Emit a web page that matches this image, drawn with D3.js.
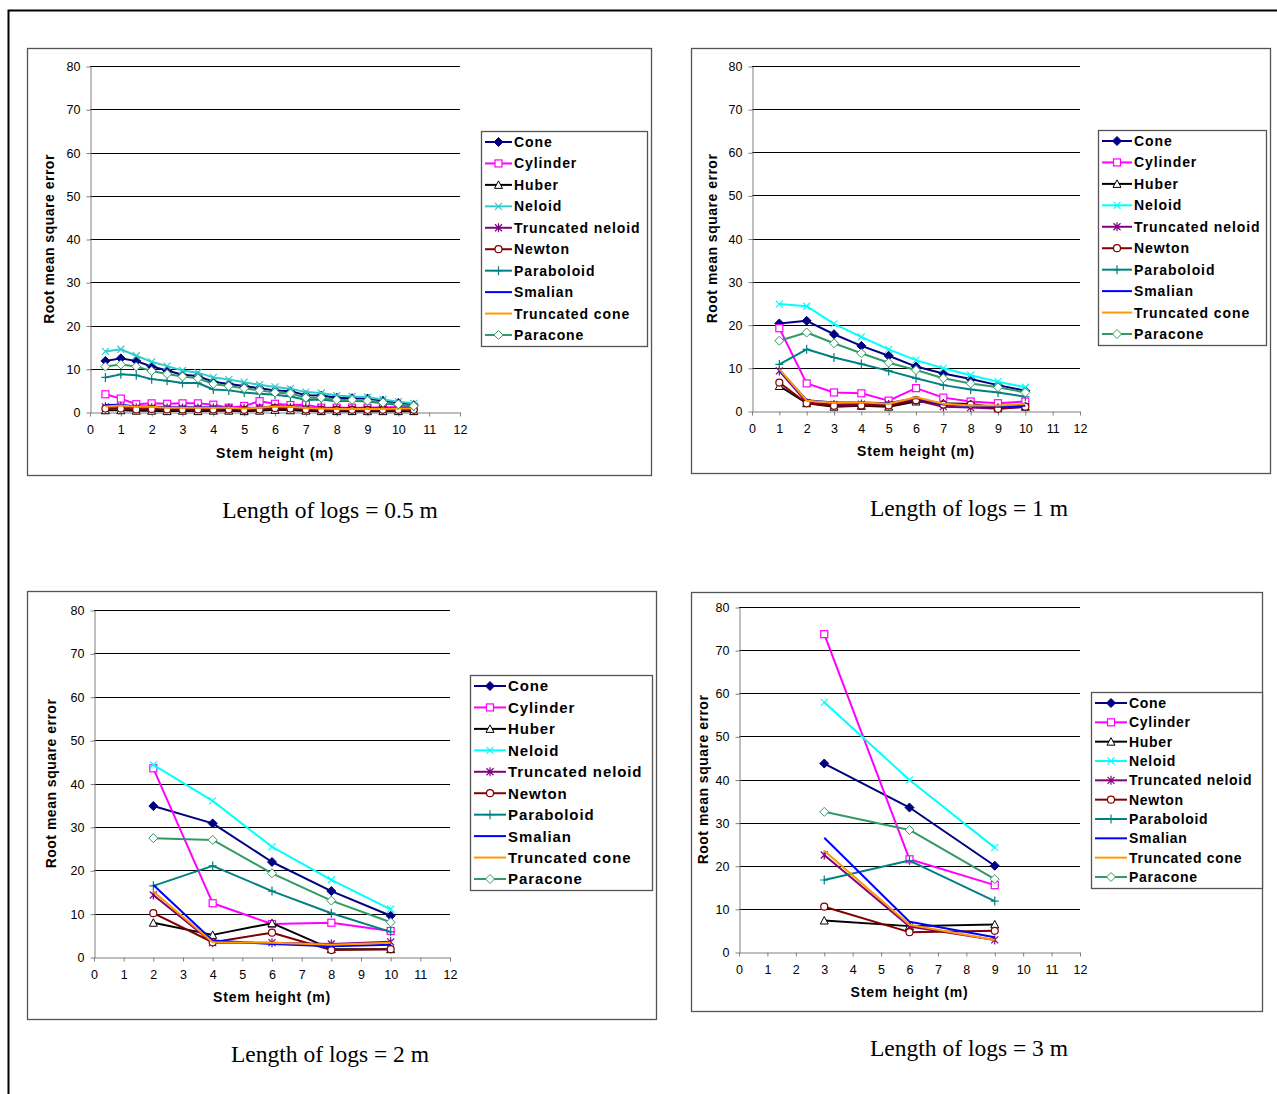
<!DOCTYPE html>
<meta charset="utf-8">
<style>
body { margin: 0; background: #fff; }
svg { display: block; }
text { font-family: Arial, "Liberation Sans", sans-serif; }
.caption { font-family: "Times New Roman", "Liberation Serif", serif; font-size: 23.5px; }
</style>
<body>
<script src="https://cdn.jsdelivr.net/npm/d3@7"></script>
<script>

// series, in the order Excel draws them
var seriesNames = ["Cone", "Cylinder", "Huber", "Neloid", "Truncated neloid",
                   "Newton", "Paraboloid", "Smalian", "Truncated cone", "Paracone"];

var xTicks = [0, 1, 2, 3, 4, 5, 6, 7, 8, 9, 10, 11, 12];
var yTicks = [0, 10, 20, 30, 40, 50, 60, 70, 80];

// length of logs = 0.5 m
var heights05 = [0.5, 1, 1.5, 2, 2.5, 3, 3.5, 4, 4.5, 5, 5.5, 6, 6.5, 7, 7.5, 8, 8.5, 9, 9.5, 10, 10.5];
var rmse05 = [
  [11.8, 12.4, 11.8, 10.5, 9.6, 8.6, 8.3, 7.0, 6.5, 6.0, 5.5, 5.0, 4.8, 3.9, 3.8, 3.3, 3.2, 3.1, 2.6, 2.1, 1.6],
  [4.1, 3.1, 1.8, 2.0, 1.9, 2.0, 2.0, 1.7, 1.0, 1.4, 2.5, 1.9, 1.6, 1.7, 1.0, 1.0, 1.0, 1.0, 1.1, 1.1, 1.2],
  [0.4, 0.4, 0.3, 0.3, 0.2, 0.3, 0.2, 0.3, 0.3, 0.2, 0.3, 0.5, 0.4, 0.3, 0.2, 0.2, 0.2, 0.2, 0.2, 0.2, 0.2],
  [14.0, 14.5, 13.0, 11.6, 10.6, 9.6, 9.1, 8.0, 7.5, 6.9, 6.3, 5.8, 5.4, 4.6, 4.4, 3.8, 3.6, 3.4, 2.9, 2.4, 2.0],
  [1.2, 1.3, 1.0, 1.0, 0.9, 0.9, 0.9, 0.9, 0.9, 0.8, 0.9, 1.1, 1.0, 0.8, 0.7, 0.7, 0.7, 0.7, 0.7, 0.7, 0.7],
  [0.8, 0.8, 0.6, 0.7, 0.6, 0.6, 0.6, 0.6, 0.6, 0.5, 0.6, 0.9, 0.8, 0.6, 0.5, 0.5, 0.5, 0.5, 0.5, 0.5, 0.5],
  [8.0, 8.7, 8.5, 7.6, 7.2, 6.7, 6.7, 5.2, 5.0, 4.5, 4.2, 4.0, 3.6, 2.8, 2.9, 2.5, 2.6, 2.4, 2.0, 1.6, 1.3],
  [1.6, 1.7, 1.3, 1.3, 1.1, 1.1, 1.1, 1.1, 1.0, 0.9, 1.0, 1.4, 1.2, 1.0, 0.9, 0.8, 0.8, 0.8, 0.8, 0.9, 0.9],
  [1.3, 1.5, 1.2, 1.2, 1.0, 1.0, 1.0, 1.0, 1.0, 0.8, 1.0, 1.3, 1.2, 0.9, 0.8, 0.7, 0.7, 0.7, 0.7, 0.8, 0.8],
  [10.5, 11.0, 10.5, 9.5, 8.8, 8.2, 7.8, 6.5, 6.0, 5.5, 5.0, 4.5, 4.3, 3.3, 3.3, 2.8, 2.8, 2.6, 2.2, 1.8, 1.4]
];

// length of logs = 1 m
var heights1 = [1, 2, 3, 4, 5, 6, 7, 8, 9, 10];
var rmse1 = [
  [20.3, 20.9, 17.8, 15.1, 12.8, 10.3, 8.7, 7.4, 6.0, 4.7],
  [19.2, 6.4, 4.3, 4.1, 2.4, 5.3, 3.1, 2.2, 1.8, 2.2],
  [5.8, 1.8, 1.0, 1.2, 1.0, 2.2, 1.8, 1.6, 0.8, 1.0],
  [24.8, 24.3, 20.2, 17.2, 14.3, 11.8, 9.9, 8.3, 6.8, 5.5],
  [9.3, 2.0, 1.5, 1.6, 1.5, 2.5, 1.0, 0.8, 0.5, 1.0],
  [6.6, 1.8, 1.2, 1.3, 1.3, 2.5, 1.5, 1.5, 0.5, 1.0],
  [10.8, 14.3, 12.4, 10.9, 9.3, 7.6, 6.0, 5.0, 4.3, 3.3],
  [9.5, 2.5, 2.0, 2.0, 1.8, 3.0, 1.5, 1.2, 1.0, 1.2],
  [9.7, 2.4, 1.9, 2.0, 1.7, 3.2, 1.7, 1.3, 1.3, 1.6],
  [16.3, 18.2, 15.7, 13.4, 11.2, 9.5, 7.6, 6.4, 5.5, 4.3]
];

// length of logs = 2 m
var heights2 = [2, 4, 6, 8, 10];
var rmse2 = [
  [34.8, 30.8, 21.9, 15.2, 9.5],
  [43.5, 12.4, 7.6, 7.9, 6.0],
  [7.9, 5.1, 7.8, 1.8, 1.8],
  [44.3, 36.0, 25.4, 17.8, 11.0],
  [14.3, 3.3, 3.3, 3.0, 3.5],
  [10.1, 3.4, 5.6, 1.6, 1.8],
  [16.4, 21.0, 15.2, 10.1, 5.8],
  [16.6, 3.8, 3.0, 2.5, 2.8],
  [15.1, 3.4, 3.3, 2.8, 3.3],
  [27.4, 27.0, 19.3, 13.0, 8.0]
];

// length of logs = 3 m
var heights3 = [3, 6, 9];
var rmse3 = [
  [43.7, 33.5, 20.0],
  [73.7, 21.5, 15.5],
  [7.3, 6.0, 6.4],
  [57.9, 39.9, 24.2],
  [22.5, 5.9, 2.8],
  [10.5, 4.6, 4.9],
  [16.7, 21.2, 11.8],
  [26.5, 7.0, 3.4],
  [23.5, 6.3, 2.8],
  [32.5, 28.3, 16.9]
];

var captions = ["Length of logs = 0.5 m", "Length of logs = 1 m",
                "Length of logs = 2 m", "Length of logs = 3 m"];

// look of each series
var styles = {
  "Cone":             {color: "#000080", marker: "diamond", fill: "#000080"},
  "Cylinder":         {color: "#ff00ff", marker: "square", fill: "#fff"},
  "Huber":            {color: "#000000", marker: "triangle", fill: "#fff"},
  "Neloid":           {color: "#00ffff", marker: "x"},
  "Truncated neloid": {color: "#800080", marker: "star"},
  "Newton":           {color: "#800000", marker: "circle", fill: "#fff"},
  "Paraboloid":       {color: "#008080", marker: "plus"},
  "Smalian":          {color: "#0000ff", marker: null},
  "Truncated cone":   {color: "#ff9900", marker: null},
  "Paracone":         {color: "#339966", marker: "diamond", fill: "#fff"}
};

var svg = d3.select("body").append("svg")
    .attr("width", 1277)
    .attr("height", 1094);

svg.append("rect").attr("width", 1277).attr("height", 1094).attr("fill", "#fff");

// page frame
svg.append("path")
    .attr("d", "M8.5,1094V10.5H1277")
    .attr("fill", "none")
    .attr("stroke", "#000")
    .attr("stroke-width", 2);

var panels = [
  {heights: heights05, rmse: rmse05, caption: captions[0], neloid: "#33cccc",
   frame: [27, 48, 651, 475], px: [90, 460], py: [412, 66],
   legend: [481, 131, 647, 346], legText: 33, legFont: 14, legSpace: 0.9, capX: 330, capY: 518, yTitleX: 49, xTitleY: 458},
  {heights: heights1, rmse: rmse1, caption: captions[1],
   frame: [691, 48, 1270, 473], px: [752, 1080], py: [411, 66],
   legend: [1098, 130, 1266, 345], legText: 36, legFont: 14, legSpace: 0.9, capX: 969, capY: 516, yTitleX: 712, xTitleY: 456},
  {heights: heights2, rmse: rmse2, caption: captions[2],
   frame: [27, 591, 656, 1019], px: [94, 450], py: [957, 610],
   legend: [470, 675, 652, 890], legText: 38, legFont: 15, legSpace: 0.9, capX: 330, capY: 1062, yTitleX: 51, xTitleY: 1002},
  {heights: heights3, rmse: rmse3, caption: captions[3],
   frame: [691, 592, 1262, 1011], px: [739, 1080], py: [952, 607],
   legend: [1091, 692, 1262, 888], legText: 38, legFont: 14, legSpace: 0.7, capX: 969, capY: 1056, yTitleX: 703, xTitleY: 997}
];

function drawMarker(g, type, color, fill) {
  var s = 3.5;
  if (type === "diamond") {
    g.append("path").attr("d", "M0,-4.5L4.5,0L0,4.5L-4.5,0Z")
      .attr("fill", fill).attr("stroke", color).attr("stroke-width", 1);
  } else if (type === "square") {
    g.append("rect").attr("x", -s).attr("y", -s).attr("width", 2 * s).attr("height", 2 * s)
      .attr("fill", fill).attr("stroke", color).attr("stroke-width", 1.2);
  } else if (type === "triangle") {
    g.append("path").attr("d", "M0,-4L4,3.5L-4,3.5Z")
      .attr("fill", fill).attr("stroke", color).attr("stroke-width", 1);
  } else if (type === "circle") {
    g.append("circle").attr("r", s)
      .attr("fill", fill).attr("stroke", color).attr("stroke-width", 1.2);
  } else if (type === "x") {
    g.append("path").attr("d", "M-3.5,-3.5L3.5,3.5M-3.5,3.5L3.5,-3.5")
      .attr("stroke", color).attr("stroke-width", 1.2);
  } else if (type === "star") {
    g.append("path").attr("d", "M-3.5,-3.5L3.5,3.5M-3.5,3.5L3.5,-3.5M0,-4.5V4.5")
      .attr("stroke", color).attr("stroke-width", 1.2);
  } else if (type === "plus") {
    g.append("path").attr("d", "M-4,0H4M0,-4.5V4.5")
      .attr("stroke", color).attr("stroke-width", 1.2);
  }
}

panels.forEach(function(p) {
  var g = svg.append("g");
  var f = p.frame;

  g.append("rect")
      .attr("x", f[0] + 0.5).attr("y", f[1] + 0.5)
      .attr("width", f[2] - f[0]).attr("height", f[3] - f[1])
      .attr("fill", "#fff").attr("stroke", "#555").attr("stroke-width", 1.3);

  var x = d3.scaleLinear().domain([0, 12]).range(p.px);
  var y = d3.scaleLinear().domain([0, 80]).range(p.py);

  // gridlines
  g.append("g").selectAll("line")
      .data(yTicks.slice(1))
    .enter().append("line")
      .attr("x1", p.px[0]).attr("x2", p.px[1])
      .attr("y1", function(d) { return Math.round(y(d)) + 0.5; })
      .attr("y2", function(d) { return Math.round(y(d)) + 0.5; })
      .attr("stroke", "#000").attr("stroke-width", 1);

  var yAxis = g.append("g")
      .attr("transform", "translate(" + (p.px[0] + 0.5) + ",0.5)")
      .call(d3.axisLeft(y).tickValues(yTicks).tickSize(4).tickSizeOuter(0));
  yAxis.select(".domain").attr("stroke", "#808080");
  yAxis.selectAll(".tick line").attr("stroke", "#808080");
  yAxis.selectAll(".tick text").attr("font-size", 12.5).attr("fill", "#000")
      .attr("x", -10).style("font-family", "Arial, 'Liberation Sans', sans-serif");

  var xAxis = g.append("g")
      .attr("transform", "translate(0," + (Math.round(p.py[0]) + 0.5) + ")")
      .call(d3.axisBottom(x).tickValues(xTicks).tickSize(4).tickSizeOuter(0));
  xAxis.select(".domain").attr("stroke", "#808080");
  xAxis.selectAll(".tick line").attr("stroke", "#808080");
  xAxis.selectAll(".tick text").attr("font-size", 12.5).attr("fill", "#000")
      .attr("y", 13).style("font-family", "Arial, 'Liberation Sans', sans-serif");

  // titles
  g.append("text")
      .attr("transform", "translate(" + p.yTitleX + "," + ((p.py[0] + p.py[1]) / 2) + ") rotate(-90)")
      .attr("text-anchor", "middle").attr("dy", "0.35em")
      .attr("font-size", 14).attr("font-weight", "bold")
      .attr("letter-spacing", 0.5)
      .text("Root mean square error");

  g.append("text")
      .attr("x", (p.px[0] + p.px[1]) / 2).attr("y", p.xTitleY)
      .attr("text-anchor", "middle")
      .attr("font-size", 14).attr("font-weight", "bold")
      .attr("letter-spacing", 0.8)
      .text("Stem height (m)");

  // series
  var line = d3.line()
      .x(function(d) { return x(d[0]); })
      .y(function(d) { return y(d[1]); });

  seriesNames.forEach(function(name, i) {
    var st = styles[name];
    var color = (name === "Neloid" && p.neloid) ? p.neloid : st.color;
    var pts = p.heights.map(function(h, j) { return [h, p.rmse[i][j]]; });
    g.append("path")
        .datum(pts)
        .attr("d", line)
        .attr("fill", "none")
        .attr("stroke", color)
        .attr("stroke-width", 2)
        .attr("stroke-linejoin", "round");
    if (st.marker) {
      pts.forEach(function(d) {
        var m = g.append("g").attr("transform", "translate(" + x(d[0]) + "," + y(d[1]) + ")");
        drawMarker(m, st.marker, color, st.fill);
      });
    }
  });

  // legend
  var L = p.legend;
  g.append("rect")
      .attr("x", L[0] + 0.5).attr("y", L[1] + 0.5)
      .attr("width", L[2] - L[0]).attr("height", L[3] - L[1])
      .attr("fill", "#fff").attr("stroke", "#555").attr("stroke-width", 1.3);

  var step = (L[3] - L[1] - 22) / 9;
  seriesNames.forEach(function(name, i) {
    var st = styles[name];
    var color = (name === "Neloid" && p.neloid) ? p.neloid : st.color;
    var cy = L[1] + 11 + i * step;
    var x1 = L[0] + 4, x2 = L[0] + p.legText - 2;
    g.append("line")
        .attr("x1", x1).attr("x2", x2).attr("y1", cy).attr("y2", cy)
        .attr("stroke", color).attr("stroke-width", 2);
    if (st.marker) {
      var m = g.append("g").attr("transform", "translate(" + ((x1 + x2) / 2) + "," + cy + ")");
      drawMarker(m, st.marker, color, st.fill);
    }
    g.append("text")
        .attr("x", L[0] + p.legText).attr("y", cy).attr("dy", "0.36em")
        .attr("font-size", p.legFont).attr("font-weight", "bold")
        .attr("letter-spacing", p.legSpace)
        .text(name);
  });

  g.append("text")
      .attr("class", "caption")
      .attr("x", p.capX).attr("y", p.capY)
      .attr("text-anchor", "middle")
      .text(p.caption);
});

</script>
</body>
